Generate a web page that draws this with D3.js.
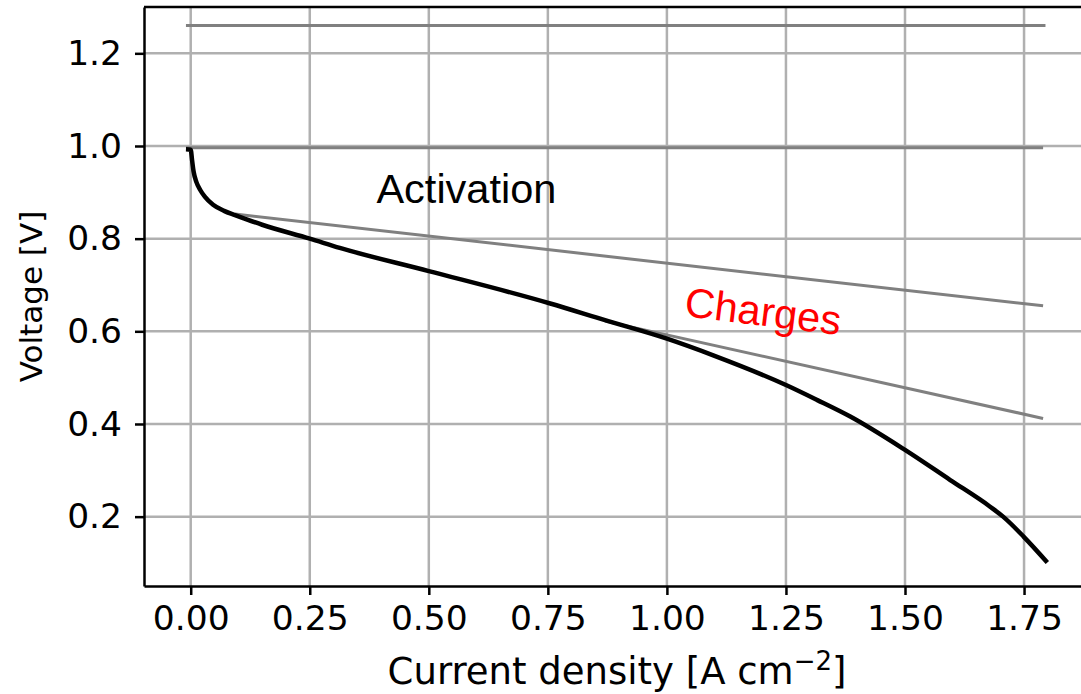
<!DOCTYPE html>
<html>
<head>
<meta charset="utf-8">
<script src="https://cdn.jsdelivr.net/npm/d3@7"></script>
<style>
  body { margin: 0; background: #fff; }
  .axis text { font-family: "DejaVu Sans", sans-serif; font-size: 34.5px; fill: #000; }
  .axis path, .axis line { stroke: #000; stroke-width: 2.5; }
  .grid line { stroke: #b0b0b0; stroke-width: 2.5; }
  .label { font-family: "DejaVu Sans", sans-serif; fill: #000; }
  .note { font-family: "Liberation Sans", Arial, sans-serif; font-size: 41.5px; }
</style>
</head>
<body>
<svg id="chart"></svg>
<script>
// polarization curve
const current = [-0.010, 0.000, 0.003, 0.006, 0.012, 0.020, 0.030, 0.047, 0.070, 0.093,
  0.150, 0.250, 0.313, 0.500, 0.755, 0.870, 1.000, 1.100, 1.250, 1.315, 1.385, 1.500,
  1.595, 1.678, 1.706, 1.749, 1.799];
const voltage = [0.993, 0.992, 0.968, 0.945, 0.922, 0.905, 0.890, 0.873, 0.860, 0.851,
  0.830, 0.800, 0.780, 0.730, 0.660, 0.624, 0.584, 0.547, 0.484, 0.452, 0.416, 0.344,
  0.279, 0.222, 0.200, 0.157, 0.101];

// gray reference lines: [x1, y1, x2, y2]
const refLines = [
  [-0.010, 1.260, 1.795, 1.260],
  [-0.010, 0.996, 1.790, 0.996],
  [0.093, 0.853, 1.790, 0.655],
  [0.870, 0.622, 1.790, 0.412]
];

const xTicks = [0, 0.25, 0.5, 0.75, 1.0, 1.25, 1.5, 1.75];
const yTicks = [0.2, 0.4, 0.6, 0.8, 1.0, 1.2];

const notes = [
  {text: 'Activation', x: 0.39, y: 0.877, color: '#000', angle: 0},
  {text: 'Charges', x: 1.035, y: 0.633, color: '#ff0000', angle: 7}
];

const width = 1081, height = 694;
const margin = {top: 7, left: 144};
const plotW = 946, plotH = 579;

const svg = d3.select('#chart')
    .attr('width', width)
    .attr('height', height);

const chart = svg.append('g')
    .attr('transform', `translate(${margin.left},${margin.top})`);

const xScale = d3.scaleLinear().domain([-0.0981, 1.8885]).range([0, plotW]);
const yScale = d3.scaleLinear().domain([0.0503, 1.300]).range([plotH, 0]);

// grid
const grid = chart.append('g').attr('class', 'grid');
grid.selectAll('line.v').data(xTicks).join('line')
    .attr('class', 'v')
    .attr('x1', d => xScale(d)).attr('x2', d => xScale(d))
    .attr('y1', 0).attr('y2', plotH);
grid.selectAll('line.h').data(yTicks).join('line')
    .attr('class', 'h')
    .attr('x1', 0).attr('x2', plotW)
    .attr('y1', d => yScale(d)).attr('y2', d => yScale(d));

// gray lines
chart.append('g')
  .selectAll('line').data(refLines).join('line')
    .attr('x1', d => xScale(d[0])).attr('y1', d => yScale(d[1]))
    .attr('x2', d => xScale(d[2])).attr('y2', d => yScale(d[3]))
    .attr('stroke', '#808080')
    .attr('stroke-width', 3);

// main curve
const points = current.map((c, i) => [c, voltage[i]]);
const line = d3.line()
    .x(d => xScale(d[0]))
    .y(d => yScale(d[1]))
    .curve(d3.curveMonotoneX);

chart.append('path')
    .datum(points)
    .attr('d', line)
    .attr('fill', 'none')
    .attr('stroke', '#000')
    .attr('stroke-width', 4.5)
    .attr('stroke-linejoin', 'round');

// annotations
chart.selectAll('text.note').data(notes).join('text')
    .attr('class', 'note')
    .attr('transform', d => `translate(${xScale(d.x)},${yScale(d.y)}) rotate(${d.angle})`)
    .attr('fill', d => d.color)
    .text(d => d.text);

// axes
const xAxis = d3.axisBottom(xScale)
    .tickValues(xTicks)
    .tickSize(9)
    .tickPadding(11)
    .tickSizeOuter(0)
    .tickFormat(d3.format('.2f'));

const yAxis = d3.axisLeft(yScale)
    .tickValues(yTicks)
    .tickSize(9)
    .tickPadding(13)
    .tickSizeOuter(0)
    .tickFormat(d3.format('.1f'));

chart.append('g')
    .attr('class', 'axis x-axis')
    .attr('transform', `translate(0,${plotH})`)
    .call(xAxis);

chart.append('g')
    .attr('class', 'axis y-axis')
    .call(yAxis);

// top spine
chart.append('line')
    .attr('x1', 0).attr('x2', plotW)
    .attr('y1', 0).attr('y2', 0)
    .attr('stroke', '#000').attr('stroke-width', 2.5);

// axis labels
const xLab = svg.append('text')
    .attr('class', 'label')
    .attr('font-size', '37px')
    .attr('text-anchor', 'middle')
    .attr('x', margin.left + plotW / 2)
    .attr('y', 684);
xLab.append('tspan').text('Current density [A cm');
xLab.append('tspan').attr('font-size', '26px').attr('dy', -14).text('\u22122');
xLab.append('tspan').attr('dy', 14).text(']');

svg.append('text')
    .attr('class', 'label')
    .attr('font-size', '31px')
    .attr('text-anchor', 'middle')
    .attr('transform', `translate(42,${margin.top + plotH / 2}) rotate(-90)`)
    .text('Voltage [V]');
</script>
</body>
</html>
